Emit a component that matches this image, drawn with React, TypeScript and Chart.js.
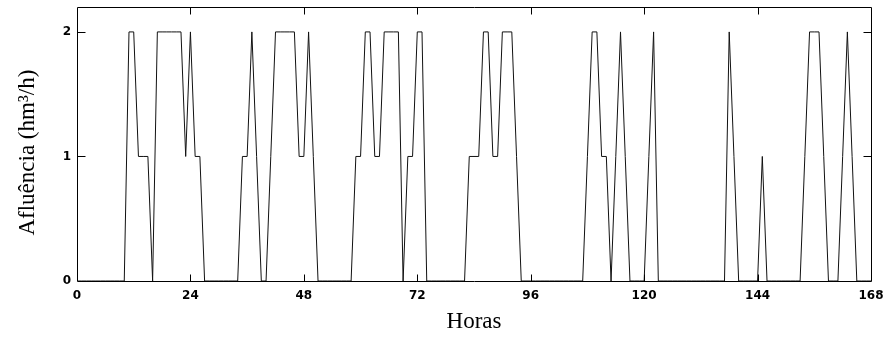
import React, { useEffect, useRef } from "react";
import { Chart, registerables } from "chart.js";

Chart.register(...registerables);

// Hours 0..168
const hours: number[] = Array.from({ length: 169 }, (_, i) => i);

// Afluência (hm³/h) per hour
const flow: number[] = [
  0, 0, 0, 0, 0, 0, 0, 0, 0, 0, // 0-9
  0, 2, 2, 1, 1, 1, 0, 2, 2, 2, // 10-19
  2, 2, 2, 1, 2, 1, 1, 0, 0, 0, // 20-29
  0, 0, 0, 0, 0, 1, 1, 2, 1, 0, // 30-39
  0, 1, 2, 2, 2, 2, 2, 1, 1, 2, // 40-49
  1, 0, 0, 0, 0, 0, 0, 0, 0, 1, // 50-59
  1, 2, 2, 1, 1, 2, 2, 2, 2, 0, // 60-69
  1, 1, 2, 2, 0, 0, 0, 0, 0, 0, // 70-79
  0, 0, 0, 1, 1, 1, 2, 2, 1, 1, // 80-89
  2, 2, 2, 1, 0, 0, 0, 0, 0, 0, // 90-99
  0, 0, 0, 0, 0, 0, 0, 0, 1, 2, // 100-109
  2, 1, 1, 0, 1, 2, 1, 0, 0, 0, // 110-119
  0, 1, 2, 0, 0, 0, 0, 0, 0, 0, // 120-129
  0, 0, 0, 0, 0, 0, 0, 0, 2, 1, // 130-139
  0, 0, 0, 0, 0, 1, 0, 0, 0, 0, // 140-149
  0, 0, 0, 0, 1, 2, 2, 2, 1, 0, // 150-159
  0, 0, 1, 2, 1, 0, 0, 0, 0,    // 160-168
];

const xTickValues: number[] = [0, 24, 48, 72, 96, 120, 144, 168];
const yTickValues: number[] = [0, 1, 2];

const X_TITLE = "Horas";
const Y_TITLE = "Afluência (hm³/h)   ";

const tickFont = { family: "'DejaVu Sans', sans-serif", size: 12, weight: "bold" as const };
const titleFont = { family: "'Liberation Serif', 'Times New Roman', serif", size: 23 };

const boxPlugin = {
  id: "boxAndTicks",
  afterDraw(chart: any) {
    const { ctx, chartArea } = chart;
    const xs = chart.scales.x;
    const ys = chart.scales.y;
    const l = Math.round(chartArea.left) + 0.5;
    const r = Math.round(chartArea.right) + 0.5;
    const t = Math.round(chartArea.top) + 0.5;
    const b = Math.round(chartArea.bottom) + 0.5;
    ctx.save();
    ctx.strokeStyle = "#000";
    ctx.lineWidth = 1;
    ctx.beginPath();
    ctx.rect(l, t, r - l, b - t);
    ctx.stroke();
    ctx.beginPath();
    for (const v of xTickValues) {
      if (v === xs.min || v === xs.max) continue;
      const px = Math.round(xs.getPixelForValue(v)) + 0.5;
      ctx.moveTo(px, b);
      ctx.lineTo(px, b - 7);
      ctx.moveTo(px, t);
      ctx.lineTo(px, t + 7);
    }
    for (const v of yTickValues) {
      if (v === ys.min) continue;
      const py = Math.round(ys.getPixelForValue(v)) + 0.5;
      ctx.moveTo(l, py);
      ctx.lineTo(l + 8, py);
      ctx.moveTo(r, py);
      ctx.lineTo(r - 8, py);
    }
    ctx.stroke();
    ctx.restore();
  },
};

export default function App() {
  const ref = useRef<HTMLCanvasElement | null>(null);

  useEffect(() => {
    document.body.style.margin = "0";
    const canvas = ref.current;
    if (!canvas) return;
    const chart = new Chart(canvas, {
      type: "line",
      data: {
        datasets: [
          {
            data: hours.map((h, i) => ({ x: h, y: flow[i] })),
            borderColor: "#111",
            borderWidth: 1,
            pointRadius: 0,
            tension: 0,
            fill: false,
          },
        ],
      },
      options: {
        responsive: false,
        animation: false,
        devicePixelRatio: 1,
        layout: { padding: { top: 7, right: 17, bottom: 0, left: 0 } },
        plugins: { legend: { display: false }, tooltip: { enabled: false } },
        scales: {
          x: {
            type: "linear",
            min: 0,
            max: 168,
            grid: { display: false, drawTicks: false },
            border: { display: false },
            afterBuildTicks: (scale: any) => {
              scale.ticks = xTickValues.map((v) => ({ value: v }));
            },
            afterFit: (scale: any) => {
              scale.height = 61;
              scale.paddingLeft = 0;
              scale.paddingRight = 0;
            },
            ticks: {
              color: "#000",
              font: tickFont,
              padding: 8,
              maxRotation: 0,
              autoSkip: false,
            },
            title: {
              display: true,
              text: X_TITLE,
              color: "#000",
              font: titleFont,
              padding: { top: 0, bottom: 6 },
            },
          },
          y: {
            type: "linear",
            min: 0,
            max: 2.2,
            grid: { display: false, drawTicks: false },
            border: { display: false },
            afterBuildTicks: (scale: any) => {
              scale.ticks = yTickValues.map((v) => ({ value: v }));
            },
            afterFit: (scale: any) => {
              scale.width = 77;
              scale.paddingTop = 0;
              scale.paddingBottom = 0;
            },
            ticks: {
              color: "#000",
              font: tickFont,
              padding: 6,
            },
            title: {
              display: true,
              text: Y_TITLE,
              color: "#000",
              font: titleFont,
              padding: { top: 14, bottom: 0 },
            },
          },
        },
      },
      plugins: [boxPlugin],
    });
    return () => chart.destroy();
  }, []);

  return (
    <div style={{ width: 888, height: 342 }}>
      <canvas ref={ref} width={888} height={342} style={{ display: "block" }} />
    </div>
  );
}
